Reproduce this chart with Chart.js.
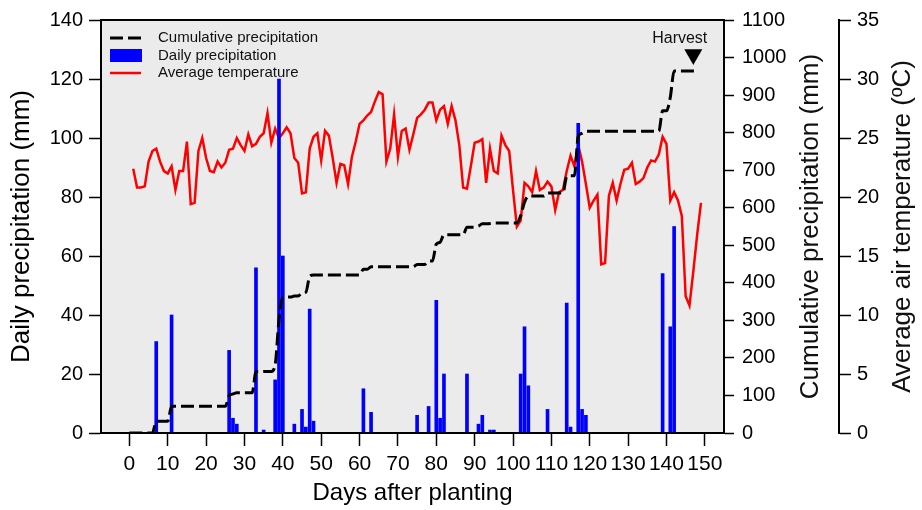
<!DOCTYPE html>
<html>
<head>
<meta charset="utf-8">
<script src="https://cdn.jsdelivr.net/npm/chart.js@4.4.1/dist/chart.umd.min.js"></script>
<style>
  body { margin: 0; background: #fff; }
  canvas { display: block; }
</style>
</head>
<body>
<canvas id="weatherChart" width="922" height="510"></canvas>
<script>
// days with rain and the daily amount (mm)
const rainDays = [7, 11, 26, 27, 28, 33, 35, 38, 39, 40, 43, 45, 46, 47, 48, 61, 63, 75, 78, 80,
                  81, 82, 88, 91, 92, 94, 95, 102, 103, 104, 109, 114, 115, 117, 118, 119, 139, 141, 142];
const rainMm = [31, 40, 28, 5, 3, 56, 1, 18, 120, 60, 3, 8, 2, 42, 4, 15, 7, 6, 9, 45,
                5, 20, 20, 3, 6, 1, 1, 20, 36, 16, 8, 44, 2, 105, 8, 6, 54, 36, 70];

// cumulative precipitation read at the corners of the curve
const cumDays = [0, 6, 7, 10, 11, 25, 26, 27, 28, 32, 33, 34, 35, 37, 38, 39, 40, 42, 43, 44,
                 45, 46, 47, 48, 60, 61, 62, 63, 74, 75, 77, 78, 79, 80, 81, 82, 87, 88, 90, 91,
                 92, 93, 94, 95, 101, 102, 103, 104, 108, 109, 113, 114, 115, 116, 117, 118, 119, 138, 139, 140,
                 141, 142, 148];
const cumMm = [0, 0, 31, 31, 71, 71, 99, 104, 107, 107, 163, 163, 164, 164, 182, 302, 362, 362, 365, 365,
               373, 375, 417, 421, 421, 436, 436, 443, 443, 449, 449, 458, 458, 503, 508, 528, 528, 548, 548, 551,
               557, 557, 558, 559, 559, 579, 615, 631, 631, 639, 639, 683, 685, 685, 790, 798, 804, 804, 858, 858,
               894, 964, 964];

// average air temperature, day 1 .. 149
const tempC = [22.4, 20.8, 20.8, 20.9, 23.0, 23.9, 24.1, 23.0, 22.2, 22.0,
               22.6, 20.6, 22.2, 22.2, 24.7, 19.4, 19.5, 23.9, 25.0, 23.3,
               22.2, 22.1, 23.0, 22.5, 22.9, 24.0, 24.1, 25.0, 24.4, 23.9,
               25.3, 24.3, 24.5, 25.1, 25.4, 27.1, 24.6, 25.8, 25.0, 25.4,
               25.9, 25.4, 23.3, 22.9, 20.3, 20.4, 24.1, 25.1, 25.4, 23.1,
               25.6, 25.2, 23.3, 21.2, 22.8, 22.7, 21.1, 23.4, 24.7, 26.2,
               26.5, 26.9, 27.2, 28.1, 28.9, 28.7, 23.0, 24.1, 27.0, 23.4,
               25.6, 25.8, 24.0, 25.3, 26.7, 27.0, 27.4, 28.0, 28.0, 26.5,
               27.4, 27.7, 26.2, 27.7, 26.5, 24.4, 20.8, 20.7, 22.6, 24.6,
               24.7, 24.9, 21.2, 24.1, 22.2, 22.0, 25.2, 24.4, 23.9, 20.6,
               17.5, 18.0, 21.2, 20.9, 20.4, 22.2, 20.6, 20.8, 21.3, 20.9,
               18.9, 20.4, 20.6, 22.2, 23.5, 22.6, 24.4, 23.0, 21.1, 19.1,
               19.7, 20.2, 14.3, 14.4, 20.1, 21.2, 19.7, 21.1, 22.3, 22.4,
               22.9, 21.1, 21.3, 21.6, 22.5, 23.1, 23.0, 23.6, 25.1, 24.5,
               19.7, 20.4, 19.7, 18.4, 11.6, 10.8, 13.7, 16.8, 19.5];

const xTicks = [0, 10, 20, 30, 40, 50, 60, 70, 80, 90, 100, 110, 120, 130, 140, 150];
const harvestDay = 147;
const harvestMark = 1008;

const FONT = "'Liberation Sans', Arial, sans-serif";

const plotFrame = {
    id: 'plotFrame',
    beforeDraw(chart) {
        const {ctx, chartArea: a} = chart;
        ctx.save();
        ctx.fillStyle = '#ebebeb';
        ctx.fillRect(a.left, a.top, a.right - a.left, a.bottom - a.top);
        ctx.restore();
    },
    afterDraw(chart) {
        const {ctx, chartArea: a, scales} = chart;
        ctx.save();
        ctx.strokeStyle = '#000';
        ctx.lineWidth = 2;
        ctx.strokeRect(a.left, a.top, a.right - a.left, a.bottom - a.top);

        // legend
        const ds = chart.data.datasets;
        const lx = a.left + 9;
        const rows = [a.top + 18, a.top + 35.5, a.top + 53];
        ctx.strokeStyle = '#000';
        ctx.lineWidth = 3;
        ctx.setLineDash([13, 5]);
        ctx.beginPath(); ctx.moveTo(lx, rows[0]); ctx.lineTo(lx + 32, rows[0]); ctx.stroke();
        ctx.setLineDash([]);
        ctx.fillStyle = '#0000ff';
        ctx.fillRect(lx, rows[1] - 6.5, 32, 13);
        ctx.strokeStyle = '#ff0000';
        ctx.lineWidth = 2.5;
        ctx.beginPath(); ctx.moveTo(lx, rows[2]); ctx.lineTo(lx + 31, rows[2]); ctx.stroke();
        ctx.fillStyle = '#111';
        ctx.font = '15px ' + FONT;
        ctx.textBaseline = 'middle';
        ctx.textAlign = 'left';
        ctx.fillText(ds[0].label, lx + 48, rows[0]);
        ctx.fillText(ds[1].label, lx + 48, rows[1]);
        ctx.fillText(ds[2].label, lx + 48, rows[2]);

        // harvest label
        ctx.font = '16px ' + FONT;
        ctx.textAlign = 'right';
        ctx.fillText('Harvest', scales.x.getPixelForValue(harvestDay) + 14, a.top + 19);

        // right axis titles, read bottom to top
        ctx.font = '26px ' + FONT;
        ctx.textAlign = 'center';
        const midY = (a.top + a.bottom) / 2;
        ctx.translate(scales.yCum.left + 87, midY);
        ctx.rotate(-Math.PI / 2);
        ctx.fillText('Cumulative precipitation (mm)', 0, 0);
        ctx.rotate(Math.PI / 2);
        ctx.translate(scales.yTemp.left + 64 - scales.yCum.left - 87, 0);
        ctx.rotate(-Math.PI / 2);
        ctx.fillText('Average air temperature (ºC)', 0, 0);
        ctx.restore();
    }
};

const ctx = document.getElementById('weatherChart').getContext('2d');

new Chart(ctx, {
    type: 'line',
    data: {
        datasets: [{
            type: 'line',
            label: 'Cumulative precipitation',
            data: cumDays.map((d, i) => ({x: d, y: cumMm[i]})),
            yAxisID: 'yCum',
            borderColor: '#000',
            borderWidth: 3,
            borderDash: [13, 5],
            cubicInterpolationMode: 'monotone',
            pointRadius: 0,
            order: 0
        }, {
            type: 'bar',
            label: 'Daily precipitation',
            data: rainDays.map((d, i) => ({x: d, y: rainMm[i]})),
            yAxisID: 'y',
            backgroundColor: '#0000ff',
            barThickness: 3,
            order: 1
        }, {
            type: 'line',
            label: 'Average temperature',
            data: tempC.map((t, i) => ({x: i + 1, y: t})),
            yAxisID: 'yTemp',
            borderColor: '#ff0000',
            borderWidth: 2.5,
            pointRadius: 0,
            tension: 0,
            order: 2
        }, {
            type: 'scatter',
            label: 'Harvest',
            data: [{x: harvestDay, y: harvestMark}],
            yAxisID: 'yCum',
            pointStyle: 'triangle',
            rotation: 180,
            pointRadius: 10.4,
            backgroundColor: '#000',
            borderWidth: 0,
            order: 0
        }]
    },
    options: {
        responsive: false,
        animation: false,
        devicePixelRatio: 1,
        layout: { padding: { top: 18, left: 0, right: 0, bottom: 0 } },
        plugins: {
            legend: { display: false },
            tooltip: { enabled: false }
        },
        scales: {
            x: {
                type: 'linear',
                position: 'bottom',
                offset: false,
                min: -7.4,
                max: 155,
                afterBuildTicks: s => { s.ticks = xTicks.map(v => ({value: v})); },
                afterFit: s => { s.height = 77; },
                grid: { offset: false, drawOnChartArea: false, tickLength: 13, tickWidth: 1.5, tickColor: '#000' },
                border: { color: '#000', width: 2 },
                ticks: { color: '#000', font: { family: FONT, size: 21 }, padding: 6,
                         maxRotation: 0, autoSkip: false, callback: v => String(v) },
                title: { display: true, text: 'Days after planting', color: '#000',
                         font: { family: FONT, size: 24 }, padding: { top: 0, bottom: 2 } }
            },
            y: {
                position: 'left',
                min: 0,
                max: 140,
                afterFit: s => { s.width = 101; },
                grid: { drawOnChartArea: false, tickLength: 12, tickWidth: 1.5, tickColor: '#000' },
                border: { color: '#000', width: 2 },
                ticks: { stepSize: 20, color: '#000', font: { family: FONT, size: 20 }, padding: 6 },
                title: { display: true, text: 'Daily precipitation (mm)', color: '#000',
                         font: { family: FONT, size: 26 }, padding: { top: 6, bottom: 0 } }
            },
            yCum: {
                position: 'right',
                min: 0,
                max: 1100,
                afterFit: s => { s.width = 115; },
                grid: { drawOnChartArea: false, tickLength: 10, tickWidth: 1.5, tickColor: '#000' },
                border: { color: '#000', width: 2 },
                ticks: { stepSize: 100, color: '#000', font: { family: FONT, size: 20 }, padding: 8,
                         callback: v => String(v) }
            },
            yTemp: {
                position: 'right',
                min: 0,
                max: 35,
                afterFit: s => { s.width = 83; },
                grid: { drawOnChartArea: false, tickLength: 12, tickWidth: 1.5, tickColor: '#000' },
                border: { color: '#000', width: 2 },
                ticks: { stepSize: 5, color: '#000', font: { family: FONT, size: 20 }, padding: 6 }
            }
        }
    },
    plugins: [plotFrame]
});
</script>
</body>
</html>
